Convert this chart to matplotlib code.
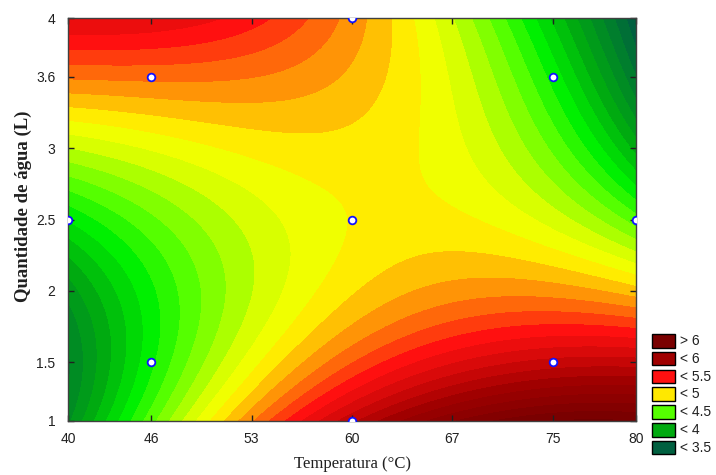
import numpy as np
import matplotlib
matplotlib.use("Agg")
import matplotlib.pyplot as plt
from matplotlib.colors import to_rgb
from matplotlib.patches import Rectangle

# ---- data ----
coded_levels = [-1.414, -1.0, -0.5, 0.0, 0.5, 1.0, 1.414]
temp_labels = ["40", "46", "53", "60", "67", "75", "80"]
water_labels = ["1", "1.5", "2", "2.5", "3", "3.6", "4"]

# response read at (water level row, temperature level column); rows from low water to high water
resp_grid = [
    [3.80, 4.30, 5.20, 5.90, 6.15, 6.30, 6.40],   # water coded -1.414
    [3.80, 4.25, 4.90, 5.35, 5.55, 5.75, 5.85],   # -1
    [3.85, 4.25, 4.70, 4.95, 5.10, 5.15, 5.00],   # -0.5
    [4.05, 4.45, 4.75, 4.88, 4.95, 4.80, 4.35],   # 0
    [4.80, 4.88, 4.93, 4.98, 4.85, 4.45, 4.00],   # 0.5
    [5.20, 5.25, 5.15, 5.05, 4.80, 4.25, 3.65],   # 1
    [5.60, 5.55, 5.45, 5.20, 4.70, 4.05, 3.40],   # 1.414
]

# experimental design points (coded)
design_t = [-1, -1, 1, 1, -1.414, 1.414, 0, 0, 0]
design_w = [-1, 1, -1, 1, 0, 0, -1.414, 1.414, 0]

legend_labels = ["> 6", "< 6", "< 5.5", "< 5", "< 4.5", "< 4", "< 3.5"]
legend_colors = ["#7a0000", "#a00000", "#ff1010", "#ffe800", "#55ff00", "#00aa10", "#006040"]

# colour anchors (value, colour)
anchor_vals = [3.45, 3.95, 4.25, 4.45, 4.75, 4.85, 4.95, 5.45, 5.95, 6.45]
anchor_cols = ["#006040", "#00aa10", "#00f000", "#55ff00", "#d8ff00", "#f0ff00", "#ffec00",
               "#ff1010", "#a00000", "#700000"]

# ---- surface fit (bicubic polynomial through the read grid) ----
L = np.array(coded_levels)
TT, WW = np.meshgrid(L, L)
Z = np.array(resp_grid)

def terms(t, w):
    return np.stack([t ** i * w ** j for i in range(4) for j in range(4)], axis=-1)

A = terms(TT.ravel(), WW.ravel())
coef, *_ = np.linalg.lstsq(A, Z.ravel(), rcond=None)

tf = np.linspace(-1.414, 1.414, 400)
wf = np.linspace(-1.414, 1.414, 400)
TF, WF = np.meshgrid(tf, wf)
ZF = terms(TF, WF) @ coef

levels = np.round(np.arange(2.5, 7.51, 0.1), 2)
mids = (levels[:-1] + levels[1:]) / 2
cols_rgb = np.array([to_rgb(c) for c in anchor_cols])
band_colors = [tuple(np.interp(m, anchor_vals, cols_rgb[:, k]) for k in range(3)) for m in mids]

# ---- figure ----
fig = plt.figure(figsize=(7.16, 4.75), dpi=100)
ax = fig.add_axes([68 / 716, 1 - 421 / 475, (636 - 68) / 716, (421 - 18) / 475])
ax.contourf(TF, WF, ZF, levels=levels, colors=band_colors, antialiased=False)
ax.plot(design_t, design_w, linestyle="none", marker="o", markersize=5.5,
        markerfacecolor="white", markeredgecolor="#1010ff", markeredgewidth=1.3, zorder=5)

ax.set_xlim(-1.414, 1.414)
ax.set_ylim(-1.414, 1.414)
ax.set_xticks(coded_levels)
ax.set_xticklabels(temp_labels)
ax.set_yticks(coded_levels)
ax.set_yticklabels(water_labels)
ax.tick_params(direction="in", length=4, width=1, top=True, right=True,
               labelsize=10, colors="#202020")
ax.tick_params(axis="x", pad=8)
ax.tick_params(axis="y", pad=9)
for lab in ax.get_xticklabels() + ax.get_yticklabels():
    lab.set_family(["Liberation Sans", "DejaVu Sans"])
for s in ax.spines.values():
    s.set_color("#404040")
    s.set_linewidth(1.0)

ax.set_xlabel("Temperatura (°C)", family=["Liberation Serif", "DejaVu Serif"], fontsize=12,
              labelpad=7, color="#202020")
ax.set_ylabel("Quantidade de água (L)", family=["Liberation Serif", "DejaVu Serif"], fontsize=13.5,
              fontweight="bold", color="#202020")
ax.yaxis.set_label_coords(-0.064, 0.533)

# legend boxes
for i, (lab, col) in enumerate(zip(legend_labels, legend_colors)):
    ytop = 334 + i * 17.8
    x0 = 652 / 716
    y0 = 1 - (ytop + 13.5) / 475
    fig.patches.append(Rectangle((x0, y0), 23 / 716, 13.5 / 475, transform=fig.transFigure,
                                 facecolor=col, edgecolor="black", linewidth=1.0))
    fig.text(680 / 716, 1 - (ytop + 7) / 475, lab, va="center", ha="left", fontsize=10,
             family=["Liberation Sans", "DejaVu Sans"], color="#202020")

fig.savefig("out.png", dpi=100)
